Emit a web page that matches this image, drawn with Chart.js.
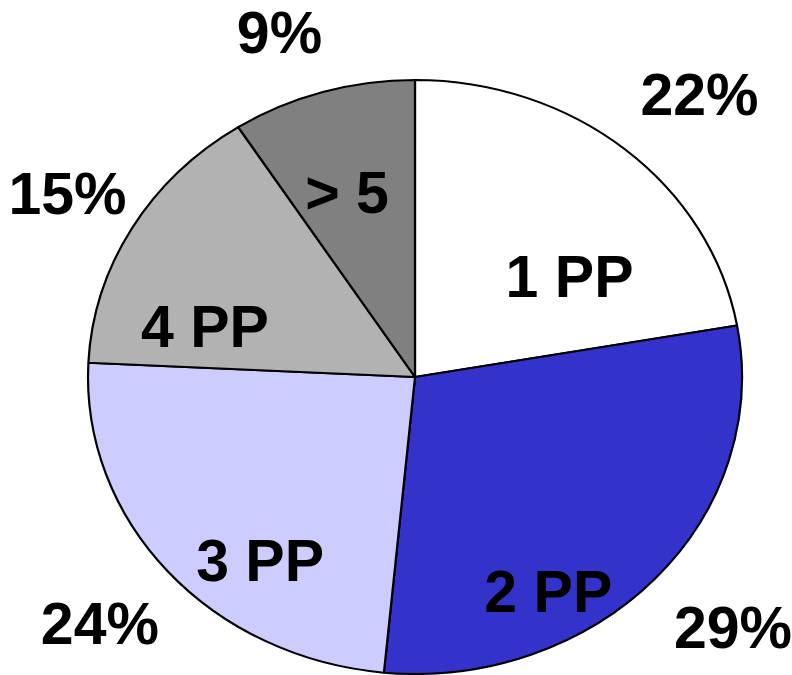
<!DOCTYPE html>
<html>
<head>
<meta charset="utf-8">
<script src="https://cdn.jsdelivr.net/npm/chart.js@4"></script>
<style>
  body { margin: 0; background: #fff; }
</style>
</head>
<body>
<canvas id="myChart" width="792" height="675"></canvas>
<script>
// dados do gráfico
const categories = ['1 PP', '2 PP', '3 PP', '4 PP', '> 5'];
const values = [22, 29, 24, 15, 9];
const percentLabels = ['22%', '29%', '24%', '15%', '9%'];

// cores das fatias
const sliceColors = ['#FFFFFF', '#3333CC', '#CCCCFF', '#B2B2B2', '#808080'];

// posicao dos textos: [fracao do angulo da fatia, fator do raio]
const innerPos = [[0.68, 0.585], [0.667, 0.83], [0.366, 0.775], [0.225, 0.662], [0.443, 0.655]];
const outerPos = [[0.53, 1.29], [0.482, 1.285], [0.503, 1.27], [0.504, 1.23], [0.40, 1.233]];

const stretchX = 327 / 297; // a pizza original é levemente oval
const fontSize = 59;
const labelFont = 'bold ' + fontSize + 'px "Liberation Sans", Arial, sans-serif';

// achata o círculo em elipse
const ellipse = {
    id: 'ellipse',
    beforeDatasetsDraw(chart) {
        const arc = chart.getDatasetMeta(0).data[0];
        const ctx = chart.ctx;
        ctx.save();
        ctx.translate(arc.x, 0);
        ctx.scale(stretchX, 1);
        ctx.translate(-arc.x, 0);
    },
    afterDatasetsDraw(chart) {
        chart.ctx.restore();
    }
};

function place(arc, f, r) {
    const ang = arc.startAngle + f * (arc.endAngle - arc.startAngle);
    const R = arc.outerRadius * r;
    return [arc.x + stretchX * R * Math.cos(ang), arc.y + R * Math.sin(ang)];
}

// textos dentro e fora das fatias
const sliceLabels = {
    id: 'sliceLabels',
    afterDraw(chart) {
        const ctx = chart.ctx;
        const arcs = chart.getDatasetMeta(0).data;
        const shift = fontSize * 0.716 / 2;
        ctx.save();
        ctx.font = labelFont;
        ctx.fillStyle = '#000';
        ctx.textAlign = 'center';
        ctx.textBaseline = 'alphabetic';
        arcs.forEach((arc, i) => {
            let p = place(arc, innerPos[i][0], innerPos[i][1]);
            ctx.fillText(categories[i], p[0] - 1, p[1] + shift);
            p = place(arc, outerPos[i][0], outerPos[i][1]);
            ctx.fillText(percentLabels[i], p[0], p[1] + shift);
        });
        ctx.restore();
    }
};

var ctx = document.getElementById('myChart').getContext('2d');
var myChart = new Chart(ctx, {
    type: 'pie',
    data: {
        labels: categories,
        datasets: [{
            data: values,
            backgroundColor: sliceColors,
            borderColor: '#000000',
            borderWidth: 2,
            clip: false
        }]
    },
    options: {
        responsive: false,
        animation: false,
        layout: {
            padding: { left: 38, right: 0, top: 79, bottom: 0 }
        },
        plugins: {
            legend: { display: false },
            tooltip: { enabled: false }
        }
    },
    plugins: [ellipse, sliceLabels]
});
</script>
</body>
</html>
